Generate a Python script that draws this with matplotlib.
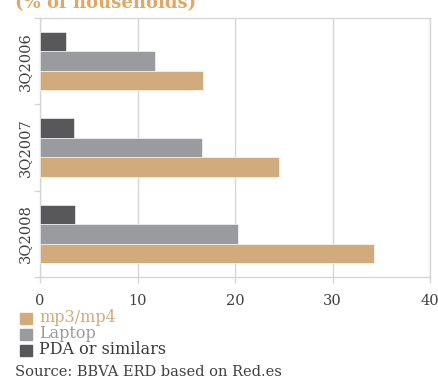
import matplotlib
matplotlib.use("Agg")
import matplotlib.pyplot as plt
from matplotlib.ticker import FixedLocator
import numpy as np

# Household device penetration (% of households)
periods = ["3Q2006", "3Q2007", "3Q2008"]
series_names = ["mp3/mp4", "Laptop", "PDA or similars"]
mp3 = [16.7, 24.5, 34.3]
laptop = [11.8, 16.6, 20.3]
pda = [2.7, 3.5, 3.6]
x_ticks = [0, 10, 20, 30, 40]

colors = {"mp3/mp4": "#d1ab7b", "Laptop": "#9a9b9f", "PDA or similars": "#58585a"}
label_colors = {"mp3/mp4": "#d1ab7b", "Laptop": "#9a9b9f", "PDA or similars": "#3a3a3a"}
grid_c = "#d6d6d6"
text_c = "#404040"

plt.rcParams["font.family"] = ["DejaVu Serif"]

fig = plt.figure(figsize=(4.39, 3.81), dpi=100)
ax = fig.add_axes([40 / 439, 1 - 277 / 381, 390 / 439, 259 / 381])

n = len(periods)
centers = np.arange(n)
bh = 0.226
values = [pda, laptop, mp3]
names = ["PDA or similars", "Laptop", "mp3/mp4"]
offsets = [-bh, 0, bh]
for vals, name, off in zip(values, names, offsets):
    ax.barh(centers + off, vals, height=bh, color=colors[name],
            edgecolor="#ffffff", linewidth=0.4, zorder=3)

ax.set_xlim(0, 40)
ax.set_ylim(n - 0.5, -0.5)
ax.set_xticks(x_ticks)
ax.set_xticklabels([str(t) for t in x_ticks], fontsize=10.5, color=text_c)
ax.set_yticks(centers)
ax.set_yticklabels(periods, rotation=90, va="center", fontsize=10.5, color=text_c)
ax.yaxis.set_minor_locator(FixedLocator(np.arange(-0.5, n, 1)))
ax.tick_params(axis="y", which="major", length=0, pad=6)
ax.tick_params(axis="y", which="minor", length=4, color=grid_c, width=1)
ax.tick_params(axis="x", which="major", length=4, color=grid_c, width=1, pad=8)
ax.xaxis.grid(True, color=grid_c, linewidth=1, zorder=0)
ax.set_axisbelow(True)
for s in ax.spines.values():
    s.set_color(grid_c)
    s.set_linewidth(1)

# Heading running off the top edge
fig.text(15 / 439, 1 - 8 / 381, "(% of households)", fontsize=13, fontweight="bold",
         color="#e0a767", ha="left", va="baseline")

# Legend drawn as square markers with coloured labels
legend_rows = [("mp3/mp4", 318), ("Laptop", 334), ("PDA or similars", 350)]
for name, ypix in legend_rows:
    y = 1 - ypix / 381
    fig.patches.append(plt.Rectangle((20 / 439, y - 5.5 / 381), 12 / 439, 11 / 381,
                                     transform=fig.transFigure, color=colors[name]))
    fig.text(39 / 439, y, name, fontsize=11.5, color=label_colors[name],
             ha="left", va="center")

fig.text(15 / 439, 1 - 372 / 381, "Source: BBVA ERD based on Red.es", fontsize=10.5,
         color=text_c, ha="left", va="center")

fig.savefig("out.png", dpi=100)
